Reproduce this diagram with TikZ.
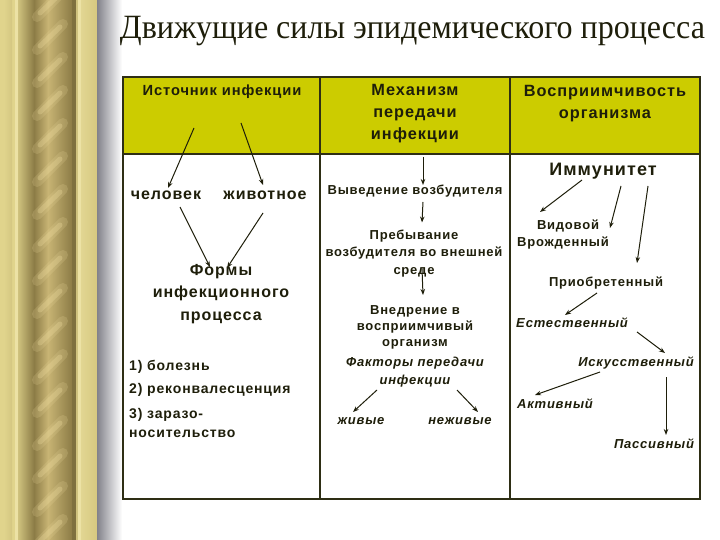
\documentclass[tikz,border=0pt]{standalone}
\usepackage{fontspec}
\setmainfont{Liberation Serif}
\newfontfamily\arl[LetterSpace=6]{Liberation Sans}
\usetikzlibrary{arrows.meta}
\definecolor{hdr}{RGB}{204,204,0}
\definecolor{ink}{RGB}{30,30,10}
\definecolor{tline}{RGB}{46,46,20}
\definecolor{paleA}{RGB}{224,212,140}
\definecolor{paleL}{RGB}{236,226,165}
\definecolor{goldD}{RGB}{140,124,70}
\definecolor{goldM}{RGB}{176,156,96}
\definecolor{goldL}{RGB}{200,180,116}
\definecolor{streak}{RGB}{240,222,160}
\definecolor{paleB}{RGB}{226,214,146}
\definecolor{paleC}{RGB}{214,200,128}
\definecolor{shad}{RGB}{130,130,138}
\begin{document}
\begin{tikzpicture}[x=1pt,y=-1pt,
  txt/.style={inner sep=0pt,text=ink,font=\arl\bfseries\fontsize{13}{16}\selectfont,align=center},
  hd/.style={txt,font=\arl\bfseries\fontsize{16.3}{22}\selectfont},
  big/.style={txt,font=\arl\bfseries\fontsize{16}{22.5}\selectfont},
  itx/.style={txt,font=\arl\bfseries\itshape\fontsize{13}{18}\selectfont},
  arr/.style={draw=ink,line width=1pt,-{Stealth[length=6pt,width=4.5pt]}},
  tbl/.style={draw=tline,line width=1.6pt}]
\useasboundingbox (0,0) rectangle (720,540);
\fill[white] (0,0) rectangle (720,540);
% decorative pillar
\fill[paleA] (0,0) rectangle (16,540);
\shade[left color=paleA,right color=paleA!85!goldD] (4,0) rectangle (12,540);
\fill[paleL] (15,0) rectangle (18,540);
\shade[left color=paleA!80!goldD,right color=goldD] (18,0) rectangle (34,540);
\shade[left color=goldD,right color=goldL] (34,0) rectangle (48,540);
\shade[left color=goldL,right color=goldD] (48,0) rectangle (72,540);
\fill[goldD!90!black] (72,0) rectangle (76,540);
\fill[paleL] (78,0) rectangle (81,540);
\shade[left color=paleB,right color=paleC] (81,0) rectangle (97,540);
\fill[paleA!80!goldD] (76,0) rectangle (78,540);
\shade[left color=shad,right color=white] (97,0) rectangle (122,540);
\begin{scope}
\clip (32,0) rectangle (70,540);
\foreach \k in {0,...,17}{
  \draw[line width=10pt,color=streak,opacity=0.18,line cap=round] (37,{\k*33+17}) -- (63,{\k*33-9});
  \draw[line width=5pt,color=streak,opacity=0.3,line cap=round] (40,{\k*33+13}) -- (60,{\k*33-6});
}
\end{scope}
% title
\node[anchor=base,inner sep=0pt,text=ink,font=\fontsize{34}{40}\selectfont] (title) at (412.5,39) {\resizebox{585pt}{\height}{Движущие силы эпидемического процесса}};
% table
\fill[hdr] (123,77) rectangle (700,154);
\draw[tbl] (123,77) rectangle (700,499);
\draw[tbl] (123,154) -- (700,154);
\draw[tbl] (320,77) -- (320,499);
\draw[tbl] (510,77) -- (510,499);
% headers
\node[hd,font=\arl\bfseries\fontsize{14.7}{22}\selectfont] (ist) at (222,92) {Источник инфекции};
\node[hd] (meh) at (415,114) {Механизм\\передачи\\инфекции};
\node[hd] (vos) at (605,103.5) {Восприимчивость\\организма};
% left column
\node[big] (chel) at (166,195) {человек};
\node[big] (zhiv) at (265,195) {животное};
\node[big] (formy) at (221,294) {Формы\\инфекционного\\процесса};
\node[txt,font=\arl\bfseries\fontsize{14}{16}\selectfont,anchor=west] (l1) at (129,367) {1) болезнь};
\node[txt,font=\arl\bfseries\fontsize{14}{16}\selectfont,anchor=west] (l2) at (129,390) {2) реконвалесценция};
\node[txt,font=\arl\bfseries\fontsize{14}{19}\selectfont,anchor=west,align=left] (l3) at (129,423) {3) заразо-\\носительство};
% middle column
\node[txt] (vyv) at (415,191) {Выведение возбудителя};
\node[txt,font=\arl\bfseries\fontsize{13}{17.5}\selectfont] (preb) at (414,253.5) {Пребывание\\возбудителя во внешней\\среде};
\node[txt] (vn) at (415,327) {Внедрение в\\восприимчивый\\организм};
\node[itx] (fakt) at (415,372) {Факторы передачи\\инфекции};
\node[itx] (zhivye) at (361,421) {живые};
\node[itx] (nezh) at (460,421) {неживые};
% right column
\node[txt,font=\arl\bfseries\fontsize{18}{22}\selectfont] (imm) at (603,171) {Иммунитет};
\node[txt] (vid) at (568,226) {Видовой};
\node[txt] (vrozh) at (563,243) {Врожденный};
\node[txt] (priob) at (606,283) {Приобретенный};
\node[itx] (est) at (572,323) {Естественный};
\node[itx] (isk) at (636,363) {Искусственный};
\node[itx] (akt) at (555,404) {Активный};
\node[itx] (pass) at (654,444) {Пассивный};
% arrows
\draw[arr] ([shift={(-28,36)}]ist.center) -- ([shift={(2,-7)}]chel.center);
\draw[arr] ([shift={(19,31)}]ist.center) -- ([shift={(-2,-10)}]zhiv.center);
\draw[arr] ([shift={(14,12)}]chel.center) -- ([shift={(-11,-27)}]formy.center);
\draw[arr] ([shift={(-2,18)}]zhiv.center) -- ([shift={(6,-26)}]formy.center);
\draw[arr] ([shift={(8,43)}]meh.center) -- ([shift={(8,-6)}]vyv.center);
\draw[arr] ([shift={(8,11)}]vyv.center) -- ([shift={(8,-31)}]preb.center);
\draw[arr] ([shift={(8,15)}]preb.center) -- ([shift={(8,-32)}]vn.center);
\draw[arr] ([shift={(-38,18)}]fakt.center) -- ([shift={(-8,-9)}]zhivye.center);
\draw[arr] ([shift={(42,18)}]fakt.center) -- ([shift={(18,-9)}]nezh.center);
\draw[arr] ([shift={(-21,9)}]imm.center) -- ([shift={(-28,-14)}]vid.center);
\draw[arr] ([shift={(18,15)}]imm.center) -- ([shift={(47,-15)}]vrozh.center);
\draw[arr] ([shift={(45,15)}]imm.center) -- ([shift={(31,-20)}]priob.center);
\draw[arr] ([shift={(-9,10)}]priob.center) -- ([shift={(-7,-8)}]est.center);
\draw[arr] ([shift={(65,9)}]est.center) -- ([shift={(29,-10)}]isk.center);
\draw[arr] ([shift={(-36,9)}]isk.center) -- ([shift={(-20,-9)}]akt.center);
\draw[arr] ([shift={(30,14)}]isk.center) -- ([shift={(12,-9)}]pass.center);
\end{tikzpicture}
\end{document}
